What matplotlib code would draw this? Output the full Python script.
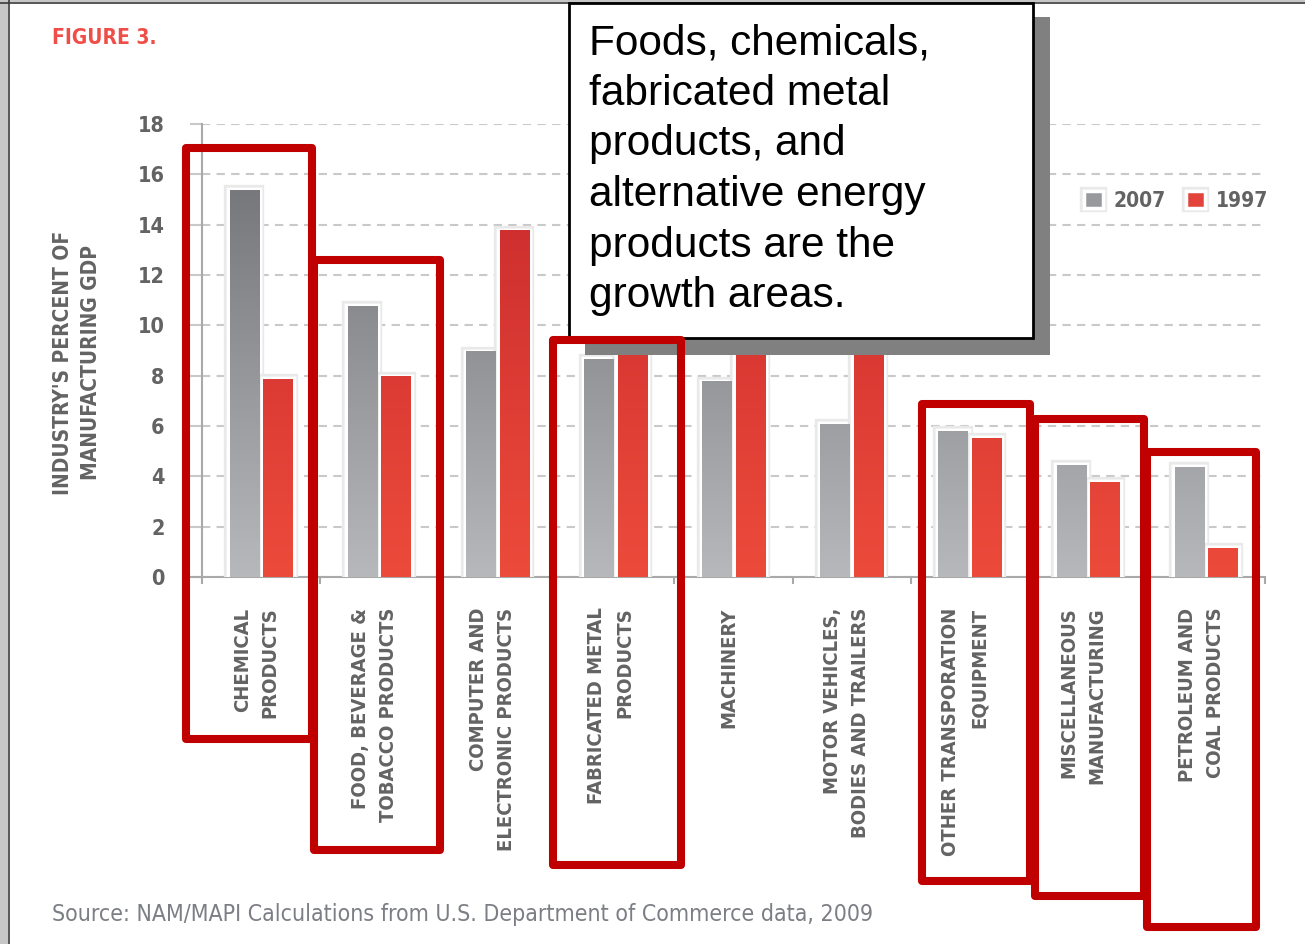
import numpy as np
import matplotlib
matplotlib.use("Agg")
import matplotlib.pyplot as plt
from matplotlib.patches import Rectangle
from matplotlib.lines import Line2D
from matplotlib.colors import LinearSegmentedColormap, Normalize
import matplotlib.patheffects as pe

# industry share of manufacturing GDP, percent
categories = [
    "CHEMICAL\nPRODUCTS",
    "FOOD, BEVERAGE &\nTOBACCO PRODUCTS",
    "COMPUTER AND\nELECTRONIC PRODUCTS",
    "FABRICATED METAL\nPRODUCTS",
    "MACHINERY",
    "MOTOR VEHICLES,\nBODIES AND TRAILERS",
    "OTHER TRANSPORATION\nEQUIPMENT",
    "MISCELLANEOUS\nMANUFACTURING",
    "PETROLEUM AND\nCOAL PRODUCTS",
]
share_2007 = [15.4, 10.8, 9.0, 8.7, 7.8, 6.1, 5.85, 4.5, 4.4]
share_1997 = [7.9, 8.0, 13.8, 9.4, 10.2, 11.5, 5.55, 3.8, 1.2]
y_ticks = [0, 2, 4, 6, 8, 10, 12, 14, 16, 18]

callout = ("Foods, chemicals,\nfabricated metal\nproducts, and\n"
           "alternative energy\nproducts are the\ngrowth areas.")
# highlighted groups, pixel boxes (left, top, right, bottom)
highlights = [
    (186, 148, 312, 739),
    (314, 260, 440, 850),
    (553, 340, 681, 865),
    (922, 404, 1030, 881),
    (1035, 419, 1144, 896),
    (1147, 452, 1256, 927),
]

W, H = 1305, 944
def fx(px):
    return px / W
def fy(py):
    return 1 - py / H

cond = dict(family="DejaVu Sans", fontstretch="condensed")
txt_gray = "#636363"
axis_gray = "#a9a9a9"
grid_gray = "#c9c9c9"

fig = plt.figure(figsize=(13.05, 9.44), dpi=100)
fig.patch.set_facecolor("white")

ax = fig.add_axes((fx(202), fy(577), fx(1265) - fx(202), fy(124) - fy(577)))
x = np.arange(len(categories))

halo = [pe.withStroke(linewidth=6, foreground="#e9e9e9")]
bars07 = ax.bar(x - 0.142, share_2007, width=0.27, color="#98999d",
                edgecolor="white", linewidth=2.5, zorder=3, label="2007")
bars97 = ax.bar(x + 0.142, share_1997, width=0.27, color="#e2433a",
                edgecolor="white", linewidth=2.5, zorder=3, label="1997")
for b in list(bars07) + list(bars97):
    b.set_path_effects(halo + [pe.Normal()])

# vertical shading inside each bar
gray_cm = LinearSegmentedColormap.from_list("g", ["#b7b8bb", "#75767a"])
red_cm = LinearSegmentedColormap.from_list("r", ["#ec4b3b", "#cb2b2d"])
for bars, cm in ((bars07, gray_cm), (bars97, red_cm)):
    for b in bars:
        x0, w, h = b.get_x(), b.get_width(), b.get_height()
        grad = np.linspace(0, h, 100).reshape(-1, 1)
        ax.imshow(grad, extent=[x0 + 0.012, x0 + w - 0.012, 0, h - 0.05],
                  origin="lower", aspect="auto", cmap=cm,
                  norm=Normalize(0, 16), zorder=3.5)

ax.set_xlim(-0.5, len(categories) - 0.5)
ax.set_ylim(0, 18)

ax.set_yticks(y_ticks)
ax.yaxis.grid(True, color=grid_gray, lw=1.5, ls=(0, (4, 3)), zorder=0)
ax.set_axisbelow(True)
ax.tick_params(axis="y", length=9, width=1.5, color=grid_gray, pad=18,
               labelsize=15.5, labelcolor=txt_gray)
for t in ax.get_yticklabels():
    t.set_family("DejaVu Sans")
    t.set_stretch("condensed")
    t.set_weight("bold")

ax.set_xticks(x - 0.04, categories)
ax.set_xticks(np.arange(-0.5, len(categories), 1), minor=True)
ax.tick_params(axis="x", which="major", length=0, pad=22, labelsize=14.5,
               labelcolor=txt_gray)
ax.tick_params(axis="x", which="minor", length=5, width=1.5, color=axis_gray)
for t in ax.get_xticklabels():
    t.set_family("DejaVu Sans")
    t.set_stretch("condensed")
    t.set_weight("bold")
    t.set_rotation(90)
    t.set_multialignment("right")
    t.set_linespacing(1.6)

for s in ("top", "right"):
    ax.spines[s].set_visible(False)
ax.spines["left"].set_color(axis_gray)
ax.spines["left"].set_linewidth(1.5)
ax.spines["bottom"].set_color(axis_gray)
ax.spines["bottom"].set_linewidth(1.5)
ax.add_line(Line2D([-0.012, 0], [0, 0], transform=ax.transAxes, color=axis_gray,
                   lw=1.5, clip_on=False))

leg = ax.legend(handles=[bars07, bars97], labels=["2007", "1997"], loc="center",
                bbox_to_anchor=(fx(1176), fy(201)), bbox_transform=fig.transFigure,
                ncol=2, frameon=False, handlelength=0.9, handleheight=0.9,
                handletextpad=0.5, columnspacing=1.0,
                prop={"family": "DejaVu Sans", "stretch": "condensed",
                      "weight": "bold", "size": 15},
                labelcolor=txt_gray)

fig.text(fx(77), fy(363), "INDUSTRY'S PERCENT OF\nMANUFACTURING GDP", rotation=90,
         ha="center", va="center", multialignment="center", weight="bold",
         fontsize=15, color=txt_gray, linespacing=1.45, **cond)

fig.text(fx(52), fy(38), "FIGURE 3.", ha="left", va="center", weight="bold",
         fontsize=15, color="#ef4e48", **cond)

fig.text(fx(52), fy(914),
         "Source: NAM/MAPI Calculations from U.S. Department of Commerce data, 2009",
         ha="left", va="center", fontsize=16.6, color="#7c7e85", **cond)

# page frame along the left and top edges
fig.add_artist(Rectangle((0, 0), fx(8), 1, transform=fig.transFigure,
                         facecolor="#c6c6c6", edgecolor="none", zorder=5))
fig.add_artist(Line2D([fx(8.5), fx(8.5)], [0, 1], transform=fig.transFigure,
                      color="#3a3a3a", lw=1.2, zorder=6))
fig.add_artist(Rectangle((0, fy(2)), 1, 1 - fy(2), transform=fig.transFigure,
                         facecolor="#c6c6c6", edgecolor="none", zorder=5))
fig.add_artist(Line2D([0, 1], [fy(2.5), fy(2.5)], transform=fig.transFigure,
                      color="#3a3a3a", lw=1.2, zorder=6))

# callout box with drop shadow
fig.add_artist(Rectangle((fx(585), fy(355)), fx(1050) - fx(585), fy(17) - fy(355),
                         transform=fig.transFigure, facecolor="#808080",
                         edgecolor="none", zorder=7))
fig.add_artist(Rectangle((fx(569), fy(338)), fx(1033) - fx(569), fy(3) - fy(338),
                         transform=fig.transFigure, facecolor="white",
                         edgecolor="black", lw=2, zorder=8))
fig.text(fx(589), fy(23), callout, ha="left", va="top", family="Liberation Sans",
         fontsize=30.5, color="black", linespacing=1.345, zorder=9)

# red outlines around the growth industries
for left, top, right, bottom in highlights:
    fig.add_artist(Rectangle((fx(left), fy(bottom)), fx(right) - fx(left),
                             fy(top) - fy(bottom), transform=fig.transFigure,
                             facecolor="none", edgecolor="#c00000", lw=5.8,
                             joinstyle="round", zorder=10))

fig.savefig("out.png", dpi=100)
